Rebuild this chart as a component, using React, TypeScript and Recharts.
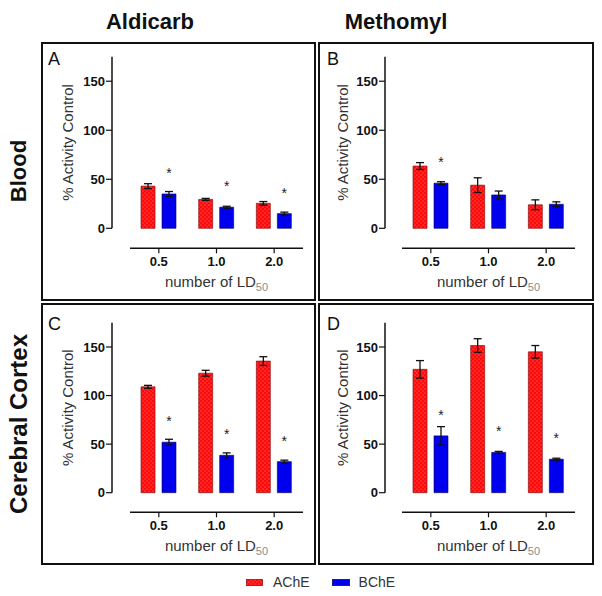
import React from 'react';
import { BarChart, Bar, XAxis, YAxis, ErrorBar, LabelList } from 'recharts';

const doses = ['0.5', '1.0', '2.0'];
const seriesNames = ['AChE', 'BChE'];
const columnTitles = ['Aldicarb', 'Methomyl'];
const rowTitles = ['Blood', 'Cerebral Cortex'];
const panelLetters = ['A', 'B', 'C', 'D'];
const yTicks = [0, 50, 100, 150];
const yDomain = [0, 175];

// A: Aldicarb, Blood
const aldicarbBloodAChE = [43, 29.5, 25.5];
const aldicarbBloodAChEErr = [2.5, 1, 1.8];
const aldicarbBloodBChE = [35, 21.5, 15];
const aldicarbBloodBChEErr = [2.5, 1, 1.5];
const aldicarbBloodSig = ['*', '*', '*'];

// B: Methomyl, Blood
const methomylBloodAChE = [63.5, 44, 24];
const methomylBloodAChEErr = [3.5, 7.5, 5];
const methomylBloodBChE = [46, 34, 24.5];
const methomylBloodBChEErr = [1.5, 4, 2.5];
const methomylBloodSig = ['*', '', ''];

// C: Aldicarb, Cerebral Cortex
const aldicarbCortexAChE = [109, 123, 135.5];
const aldicarbCortexAChEErr = [1.5, 3, 4.5];
const aldicarbCortexBChE = [52, 38.5, 32];
const aldicarbCortexBChEErr = [3, 2.5, 1.5];
const aldicarbCortexSig = ['*', '*', '*'];

// D: Methomyl, Cerebral Cortex
const methomylCortexAChE = [127, 151.5, 145];
const methomylCortexAChEErr = [9, 7, 6.5];
const methomylCortexBChE = [58.5, 41.5, 34.5];
const methomylCortexBChEErr = [9.5, 1, 1];
const methomylCortexSig = ['*', '*', '*'];

const FONT = '"Liberation Sans", Arial, Helvetica, sans-serif';
const RED = '#ff0a0a';
const BLUE = '#0000ee';

type Row = { dose: string; ache: number; acheErr: number; bche: number; bcheErr: number; sig: string };

function buildRows(a: number[], ae: number[], b: number[], be: number[], s: string[]): Row[] {
  return doses.map((dose, i) => ({ dose, ache: a[i], acheErr: ae[i], bche: b[i], bcheErr: be[i], sig: s[i] }));
}

const panels = [
  { letter: panelLetters[0], col: 0, row: 0, rows: buildRows(aldicarbBloodAChE, aldicarbBloodAChEErr, aldicarbBloodBChE, aldicarbBloodBChEErr, aldicarbBloodSig) },
  { letter: panelLetters[1], col: 1, row: 0, rows: buildRows(methomylBloodAChE, methomylBloodAChEErr, methomylBloodBChE, methomylBloodBChEErr, methomylBloodSig) },
  { letter: panelLetters[2], col: 0, row: 1, rows: buildRows(aldicarbCortexAChE, aldicarbCortexAChEErr, aldicarbCortexBChE, aldicarbCortexBChEErr, aldicarbCortexSig) },
  { letter: panelLetters[3], col: 1, row: 1, rows: buildRows(methomylCortexAChE, methomylCortexAChEErr, methomylCortexBChE, methomylCortexBChEErr, methomylCortexSig) },
];

// ySpacer: gap between the y axis line and the start of the x axis / bar region
const colLayout = [
  { left: 42, width: 272, mLeft: 26, ySpacer: 18, yMain: 44, mRight: 11, boxLeft: 41, boxWidth: 275, letterLeft: 48, titleCenter: 150 },
  { left: 320, width: 274, mLeft: 22.5, ySpacer: 17, yMain: 42.5, mRight: 19, boxLeft: 318, boxWidth: 276, letterLeft: 327, titleCenter: 396 },
];
// xSpacer: gap between the zero line and the x axis line
const rowLayout = [
  { top: 42, height: 258, mTop: 14.7, plotH: 171.6, xSpacer: 20, xMain: 45, boxTop: 42, boxHeight: 259, letterTop: 50, labelCenter: 171, labelSize: 22 },
  { top: 304, height: 260, mTop: 18.7, plotH: 170, xSpacer: 19.6, xMain: 45, boxTop: 303, boxHeight: 262, letterTop: 315, labelCenter: 424, labelSize: 24 },
];

const axisLineStyle = { stroke: '#111', strokeWidth: 1.5 };
const tickLineStyle = { stroke: '#111', strokeWidth: 1.2 };
const tickStyle = { fill: '#111', fontSize: 13, fontWeight: 'bold', fontFamily: FONT };

const StarLabel = (props: any) => {
  const vb = props.viewBox || {};
  const x = props.x ?? vb.x;
  const y = props.y ?? vb.y;
  const w = props.width ?? vb.width;
  if (!props.value || x == null || y == null) return null;
  return (
    <text x={x + w / 2} y={y - 16} textAnchor="middle" fontSize={14} fill="#222" fontFamily={FONT}>
      {props.value}
    </text>
  );
};

const XLabel = (props: any) => {
  const vb = props.viewBox || {};
  return (
    <text x={vb.x + vb.width / 2} y={vb.y + 39} textAnchor="middle" fontSize={15} fill="#333" fontFamily={FONT}>
      number of LD
      <tspan fontSize={11} fill="#8a8a8a" dy={4}>50</tspan>
    </text>
  );
};

function DotPattern({ id }: { id: string }) {
  return (
    <pattern id={id} width="4" height="4" patternUnits="userSpaceOnUse">
      <rect width="4" height="4" fill={RED} />
      <circle cx="1" cy="1" r="0.55" fill="#ffffff" fillOpacity={0.55} />
      <circle cx="3" cy="3" r="0.55" fill="#ffffff" fillOpacity={0.55} />
    </pattern>
  );
}

function Panel({ p }: { p: (typeof panels)[number] }) {
  const c = colLayout[p.col];
  const r = rowLayout[p.row];
  const patId = `dots${p.letter}`;
  const barsBottom = r.height - r.mTop - r.plotH;
  return (
    <>
      {/* bars + y axis; x axis hidden, padded so bars start after the gap */}
      <div style={{ position: 'absolute', left: c.left, top: r.top }}>
        <BarChart
          width={c.width}
          height={r.height}
          data={p.rows}
          margin={{ top: r.mTop, right: c.mRight, bottom: barsBottom, left: c.mLeft }}
          barGap={7}
        >
          <defs>
            <DotPattern id={patId} />
          </defs>
          <XAxis dataKey="dose" hide padding={{ left: c.ySpacer, right: 0 }} />
          <YAxis
            width={c.yMain}
            domain={yDomain}
            ticks={yTicks}
            interval={0}
            axisLine={axisLineStyle}
            tickLine={tickLineStyle}
            tickSize={6}
            tickMargin={1}
            tick={tickStyle}
            label={{
              value: '% Activity Control',
              angle: -90,
              position: 'insideLeft',
              offset: 0,
              style: { textAnchor: 'middle', fontSize: 15, fill: '#333', fontFamily: FONT },
            }}
          />
          <Bar
            dataKey="ache"
            name={seriesNames[0]}
            fill={`url(#${patId})`}
            stroke="#7a0000"
            strokeWidth={0.6}
            barSize={14}
            isAnimationActive={false}
          >
            <ErrorBar dataKey="acheErr" width={4} stroke="#111" strokeWidth={1.3} isAnimationActive={false} />
          </Bar>
          <Bar
            dataKey="bche"
            name={seriesNames[1]}
            fill={BLUE}
            stroke="#000050"
            strokeWidth={0.6}
            barSize={14}
            isAnimationActive={false}
          >
            <ErrorBar dataKey="bcheErr" width={4} stroke="#111" strokeWidth={1.3} isAnimationActive={false} />
            <LabelList dataKey="sig" content={StarLabel} />
          </Bar>
        </BarChart>
      </div>
      {/* offset x axis, drawn below the zero line */}
      <div style={{ position: 'absolute', left: c.left, top: r.top, pointerEvents: 'none' }}>
        <BarChart
          width={c.width}
          height={r.height}
          data={p.rows}
          margin={{
            top: r.mTop,
            right: c.mRight,
            bottom: barsBottom - r.xSpacer - r.xMain,
            left: c.mLeft + c.yMain + c.ySpacer,
          }}
        >
          <XAxis
            dataKey="dose"
            height={r.xMain}
            axisLine={axisLineStyle}
            tickLine={tickLineStyle}
            tickSize={5}
            tickMargin={3}
            tick={tickStyle}
            label={XLabel}
          />
          <YAxis hide domain={yDomain} />
        </BarChart>
      </div>
    </>
  );
}

export default function App() {
  return (
    <div style={{ position: 'absolute', left: 0, top: 0, width: 602, height: 596, background: '#fff', fontFamily: FONT, overflow: 'hidden' }}>
      {columnTitles.map((t, i) => (
        <div
          key={t}
          style={{
            position: 'absolute', left: colLayout[i].titleCenter - 100, width: 200, top: 11,
            textAlign: 'center', fontSize: 22, fontWeight: 'bold', lineHeight: 1, color: '#111',
          }}
        >
          {t}
        </div>
      ))}
      {rowTitles.map((t, i) => (
        <div
          key={t}
          style={{
            position: 'absolute', left: 19, top: rowLayout[i].labelCenter, whiteSpace: 'nowrap',
            transform: 'translate(-50%, -50%) rotate(-90deg)', fontSize: rowLayout[i].labelSize, fontWeight: 'bold', lineHeight: 1, color: '#111',
          }}
        >
          {t}
        </div>
      ))}
      {panels.map((p) => {
        const c = colLayout[p.col];
        const r = rowLayout[p.row];
        return (
          <div
            key={'box' + p.letter}
            style={{
              position: 'absolute', left: c.boxLeft, top: r.boxTop, width: c.boxWidth, height: r.boxHeight,
              boxSizing: 'border-box', border: '2.5px solid #111',
            }}
          />
        );
      })}
      {panels.map((p) => (
        <div
          key={'letter' + p.letter}
          style={{ position: 'absolute', left: colLayout[p.col].letterLeft, top: rowLayout[p.row].letterTop, fontSize: 18, lineHeight: 1, color: '#111' }}
        >
          {p.letter}
        </div>
      ))}
      {panels.map((p) => (
        <Panel key={p.letter} p={p} />
      ))}
      <div style={{ position: 'absolute', left: 246, top: 574, height: 16, display: 'flex', alignItems: 'center', fontSize: 14, color: '#333' }}>
        <svg width={17} height={7} style={{ display: 'block' }}>
          <defs>
            <DotPattern id="dotsLegend" />
          </defs>
          <rect x={0.3} y={0.3} width={16.4} height={6.4} fill="url(#dotsLegend)" stroke="#7a0000" strokeWidth={0.6} />
        </svg>
        <span style={{ marginLeft: 10 }}>{seriesNames[0]}</span>
        <svg width={18} height={7} style={{ display: 'block', marginLeft: 22 }}>
          <rect x={0.3} y={0.3} width={17.4} height={6.4} fill={BLUE} stroke="#000050" strokeWidth={0.6} />
        </svg>
        <span style={{ marginLeft: 9 }}>{seriesNames[1]}</span>
      </div>
    </div>
  );
}
